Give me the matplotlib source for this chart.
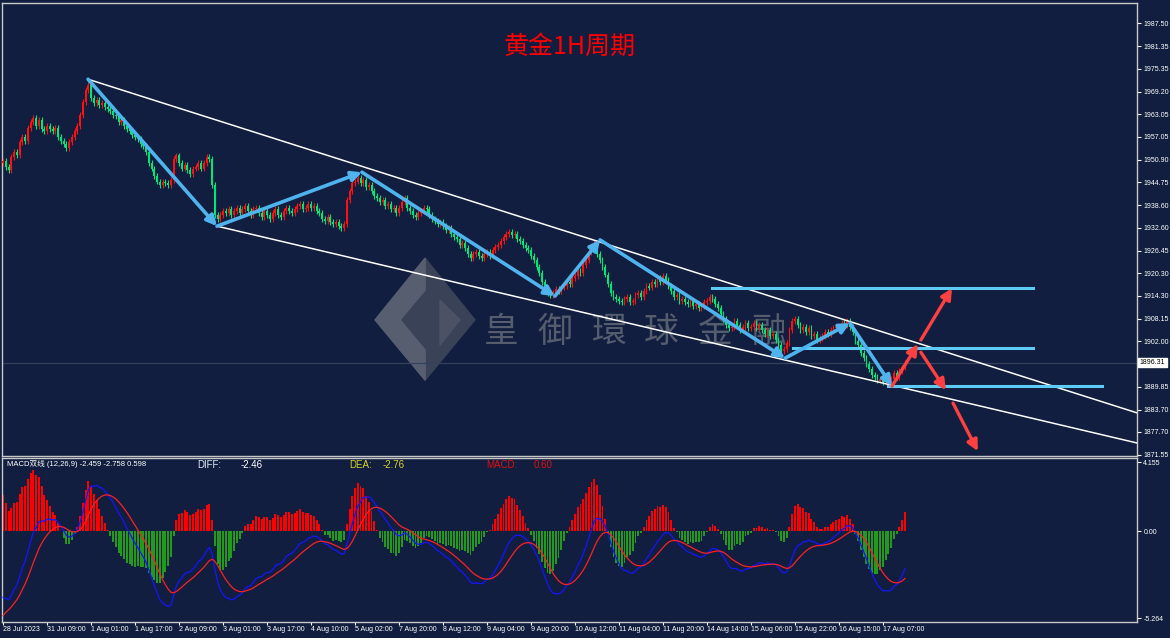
import numpy as np
import matplotlib
matplotlib.use("Agg")
import matplotlib.pyplot as plt
from matplotlib.patches import Polygon

plt.rcParams['font.family'] = ['Liberation Sans', 'Noto Sans CJK SC']

# Precios de cierre (velas de 1 hora)
closes = [
    1950.5, 1949.0, 1948.0, 1951.5, 1953.0, 1952.0, 1955.5, 1957.0, 1956.0, 1959.5, 1961.0, 1962.0, 1960.0, 1961.5, 1959.0, 1958.5,
    1960.0, 1959.0, 1958.5, 1959.5, 1957.0, 1956.0, 1955.0, 1954.0, 1955.5, 1957.0, 1958.5, 1960.0, 1963.0, 1966.5, 1969.5, 1971.0,
    1967.5, 1966.0, 1967.0, 1965.5, 1966.0, 1965.0, 1964.5, 1964.0, 1963.0, 1962.5, 1961.0, 1961.5, 1960.0, 1959.0, 1958.5, 1957.5,
    1957.0, 1956.5, 1955.0, 1954.5, 1953.0, 1950.0, 1948.5, 1946.5, 1945.0, 1944.0, 1945.0, 1944.5, 1944.0, 1945.5, 1951.0, 1952.0,
    1950.0, 1948.5, 1949.5, 1948.0, 1947.0, 1948.5, 1949.0, 1950.0, 1948.5, 1950.0, 1951.5, 1951.0, 1944.0, 1936.0, 1935.0, 1936.0,
    1937.0, 1936.5, 1937.5, 1936.0, 1937.0, 1938.0, 1936.5, 1937.5, 1938.5, 1937.0, 1936.0, 1937.5, 1938.0, 1936.5, 1935.5, 1937.0,
    1936.0, 1935.0, 1936.5, 1937.5, 1936.0, 1935.5, 1937.0, 1938.0, 1937.0, 1936.5, 1937.5, 1938.5, 1939.0, 1937.5, 1938.0, 1939.0,
    1938.0, 1938.5, 1937.0, 1936.5, 1935.0, 1934.5, 1935.5, 1934.0, 1933.5, 1934.0, 1933.0, 1932.5, 1933.5, 1940.0, 1942.5, 1944.5,
    1945.0, 1946.0, 1944.5, 1945.5, 1943.5, 1944.0, 1942.5, 1941.0, 1940.5, 1939.5, 1940.0, 1938.5, 1939.0, 1937.5, 1938.0, 1936.5,
    1938.0, 1939.5, 1940.5, 1938.0, 1937.0, 1936.0, 1935.5, 1936.5, 1937.0, 1938.0, 1937.5, 1936.0, 1935.0, 1934.5, 1933.5, 1934.0,
    1933.0, 1932.0, 1932.5, 1931.0, 1930.0, 1929.5, 1928.0, 1928.5, 1927.0, 1925.5, 1924.5, 1925.5, 1926.0, 1925.0, 1924.5, 1925.5,
    1926.0, 1925.0, 1926.5, 1927.5, 1928.0, 1929.0, 1930.0, 1931.0, 1931.5, 1930.5, 1931.0, 1929.5, 1929.0, 1928.0, 1927.0, 1926.5,
    1925.0, 1924.0, 1922.0, 1920.5, 1918.0, 1916.5, 1915.0, 1914.5, 1915.0, 1916.0, 1915.5, 1916.5, 1917.0, 1918.0, 1917.5, 1919.0,
    1919.5, 1921.0, 1920.5, 1922.5, 1924.0, 1926.0, 1927.0, 1928.5, 1925.5, 1924.0, 1922.0, 1920.0, 1917.5, 1915.0, 1914.0, 1913.5,
    1913.0, 1912.5, 1913.5, 1914.0, 1912.5, 1913.0, 1914.5, 1915.0, 1914.0, 1915.5, 1917.0, 1916.5, 1918.0, 1917.5, 1919.0, 1918.0,
    1919.5, 1918.5, 1917.0, 1915.5, 1914.0, 1914.5, 1913.0, 1913.5, 1912.5, 1912.0, 1913.0, 1911.5, 1912.0, 1911.0, 1911.5, 1912.5,
    1913.0, 1914.0, 1913.5, 1912.0, 1911.0, 1909.5, 1908.0, 1906.5, 1905.5, 1906.0, 1907.5, 1906.5, 1905.0, 1906.0, 1907.0, 1905.5,
    1906.0, 1907.0, 1905.5, 1906.5, 1905.0, 1904.0, 1905.0, 1903.5, 1904.0, 1902.5, 1901.0, 1899.5, 1900.0, 1901.5, 1905.0, 1907.5,
    1908.0, 1906.5, 1905.0, 1906.0, 1904.5, 1905.5, 1903.5, 1904.0, 1902.5, 1903.0, 1903.5, 1904.5, 1904.0, 1905.0, 1905.5, 1906.0,
    1906.0, 1907.0, 1906.5, 1907.5, 1906.0, 1904.5, 1902.0, 1901.0, 1899.0, 1897.5, 1896.0, 1894.5, 1893.0, 1892.5, 1891.5, 1892.0,
    1891.0, 1892.5, 1891.5, 1892.0, 1893.5, 1892.5, 1894.0, 1895.0, 1896.31,
]

time_labels = ["28 Jul 2023", "31 Jul 09:00", "1 Aug 01:00", "1 Aug 17:00", "2 Aug 09:00",
               "3 Aug 01:00", "3 Aug 17:00", "4 Aug 10:00", "5 Aug 02:00", "7 Aug 20:00",
               "8 Aug 12:00", "9 Aug 04:00", "9 Aug 20:00", "10 Aug 12:00", "11 Aug 04:00",
               "11 Aug 20:00", "14 Aug 14:00", "15 Aug 06:00", "15 Aug 22:00", "16 Aug 15:00",
               "17 Aug 07:00"]

price_ticks = [1987.50, 1981.35, 1975.35, 1969.20, 1963.05, 1957.05, 1950.90, 1944.75, 1938.60,
               1932.60, 1926.45, 1920.30, 1914.30, 1908.15, 1902.00, 1889.85, 1883.70, 1877.70,
               1871.55]
last_price = 1896.31

# Valores del encabezado del indicador
macd_diff, macd_dea, macd_bar = -2.459, -2.758, 0.598

# Lineas de analisis (barra, precio)
channel_top = [(30.9, 1972.5), (412.4, 1882.8)]
channel_bottom = [(77.8, 1933.0), (412.4, 1874.7)]
zigzag = [(30.9, 1972.5), (77.8, 1933.0), (130.5, 1947.5), (200.7, 1914.2),
          (217.1, 1929.3), (284.4, 1897.5), (308.0, 1906.9), (323.3, 1890.0)]
red_arrows = [((323.3, 1890.0), (332.7, 1901.3)), ((333.8, 1902.4), (345.1, 1916.3)),
              ((333.8, 1899.1), (342.9, 1888.9)), ((345.5, 1885.4), (354.5, 1872.5))]
levels = [(257.8, 374.5, 1916.4), (287.3, 374.5, 1900.2), (321.8, 399.6, 1890.0)]

# Logo de la marca de agua (barra, precio)
logo_back = [(153.5, 1924.4), (171.6, 1907.8), (153.5, 1891.6), (135.3, 1907.8)]
logo_front = [(153.5, 1924.4), (135.3, 1907.8), (153.5, 1891.6), (153.5, 1899.7),
              (144.4, 1907.8), (153.5, 1915.8)]
logo_cut = [(158.9, 1913.1), (166.2, 1907.8), (158.9, 1901.0)]

# MACD (12,26,9): estado inicial estimado a partir del grafico
ema12_start, ema26_start, dea_start = 3.0, 7.0, -5.1

bg = '#111e3f'
c = np.array(closes)
n = len(c)
x = np.arange(n)
o = np.r_[c[0] - 0.5, c[:-1]]
h = np.maximum(o, c) + 0.8
l = np.minimum(o, c) - 0.8

ema12 = np.zeros(n); ema26 = np.zeros(n); dea = np.zeros(n)
ema12[0] = c[0] + ema12_start; ema26[0] = c[0] + ema26_start; dea[0] = dea_start
for i in range(1, n):
    ema12[i] = ema12[i - 1] + 2 / 13 * (c[i] - ema12[i - 1])
    ema26[i] = ema26[i - 1] + 2 / 27 * (c[i] - ema26[i - 1])
    dea[i] = dea[i - 1] + 2 / 10 * ((ema12[i] - ema26[i]) - dea[i - 1])
diff = ema12 - ema26
hist = 2 * (diff - dea)

fig = plt.figure(figsize=(11.7, 6.38), dpi=100, facecolor=bg)
W, H = 1170, 638
ax = fig.add_axes([2 / W, 1 - 456 / H, 1135 / W, 453 / H], facecolor=bg)
ax2 = fig.add_axes([2 / W, 1 - 622 / H, 1135 / W, 164 / H], facecolor=bg, sharex=ax)

# Velas
up = c >= o
col = np.where(up, '#ff1010', '#00e676')
ax.vlines(x, l, h, colors=col, lw=0.8, zorder=3)
ax.bar(x, np.maximum(np.abs(c - o), 0.25), bottom=np.minimum(o, c), width=0.65,
       color=col, zorder=3)

# Marca de agua
ax.add_patch(Polygon(logo_back, closed=True, color='#3a4258', zorder=1))
ax.add_patch(Polygon(logo_front, closed=True, color='#575e70', zorder=1))
ax.add_patch(Polygon(logo_cut, closed=True, color='#4b5266', zorder=1))
for k, ch in enumerate("皇御環球金融"):
    ax.text(181 + k * 19.5, 1904.5, ch, fontsize=25, color='#555c6e',
            family='Noto Sans CJK SC', ha='center', va='center', zorder=1)

# Canal y lineas
for seg in (channel_top, channel_bottom):
    ax.plot([p[0] for p in seg], [p[1] for p in seg], color='white', lw=1.1, zorder=4)
for x0, x1, y0 in levels:
    ax.plot([x0, x1], [y0, y0], color='#5ccbf5', lw=2.2, zorder=4)
ax.axhline(last_price, color='#34405c', lw=0.9, zorder=2)

for a, b in zip(zigzag[:-1], zigzag[1:]):
    ax.annotate('', xy=b, xytext=a, zorder=5,
                arrowprops=dict(arrowstyle='-|>', color='#4fb3ee', lw=2.6,
                                mutation_scale=15, shrinkA=0, shrinkB=0))
for a, b in red_arrows:
    ax.annotate('', xy=b, xytext=a, zorder=5,
                arrowprops=dict(arrowstyle='-|>', color='#ff4040', lw=2.4,
                                mutation_scale=16, shrinkA=0, shrinkB=0))

fig.text(570 / W, 1 - 47 / H, "黄金1H周期", color='#ff0000', fontsize=18,
         family='Noto Sans CJK SC', ha='center', va='center')

ax.set_xlim(-0.4, 412.4)
ax.set_ylim(1871.2, 1993.0)
ax.yaxis.tick_right()
ax.set_yticks(price_ticks)
ax.set_yticklabels([f"{v:.2f}" for v in price_ticks])
ax.tick_params(axis='y', colors='white', labelsize=5, length=3, pad=1.5)
ax.tick_params(axis='x', bottom=False, labelbottom=False)
ax.text(1.0025, (last_price - 1871.2) / (1993.0 - 1871.2), f"{last_price:.2f}",
        transform=ax.transAxes, fontsize=5, color='black', va='center', ha='left',
        bbox=dict(boxstyle='square,pad=0.2', fc='white', ec='white'))

# MACD
hcol = np.where(hist >= 0, '#ff0000', '#239a1d')
ax2.bar(x, hist, width=0.7, color=hcol, zorder=2)
ax2.plot(x, diff, color='#1515ff', lw=0.9, zorder=3)
ax2.plot(x, dea, color='#ff2020', lw=0.9, zorder=3)
ax2.set_ylim(-5.48, 4.40)
ax2.yaxis.tick_right()
ax2.set_yticks([4.155, 0.0, -5.264])
ax2.set_yticklabels(["4.155", "0.00", "-5.264"])
ax2.tick_params(axis='y', colors='white', labelsize=5, length=3, pad=1.5)
ax2.set_xticks(np.arange(len(time_labels)) * 16)
ax2.set_xticklabels(time_labels, ha='left')
ax2.tick_params(axis='x', colors='white', labelsize=5, length=2, pad=1)

ax2.text(0.004, 0.985, f"MACD双线 (12,26,9) {macd_diff:.3f} {macd_dea:.3f} {macd_bar:.3f}",
         transform=ax2.transAxes, color='white', fontsize=5.5, va='top')
ax2.text(0.172, 0.985, "DIFF:", transform=ax2.transAxes, color='#dfe6f5', fontsize=7, va='top')
ax2.text(0.210, 0.985, f"{macd_diff:.2f}", transform=ax2.transAxes, color='white', fontsize=7, va='top')
ax2.text(0.306, 0.985, "DEA:", transform=ax2.transAxes, color='#d6d620', fontsize=7, va='top')
ax2.text(0.335, 0.985, f"{macd_dea:.2f}", transform=ax2.transAxes, color='#d6d620', fontsize=7, va='top')
ax2.text(0.427, 0.985, "MACD:", transform=ax2.transAxes, color='#e01010', fontsize=7, va='top')
ax2.text(0.468, 0.985, f"{macd_bar:.2f}", transform=ax2.transAxes, color='#e01010', fontsize=7, va='top')

for a in (ax, ax2):
    for s in a.spines.values():
        s.set_color('#c8c8c8')
        s.set_linewidth(1)

fig.savefig("out.png", dpi=100, facecolor=bg)
